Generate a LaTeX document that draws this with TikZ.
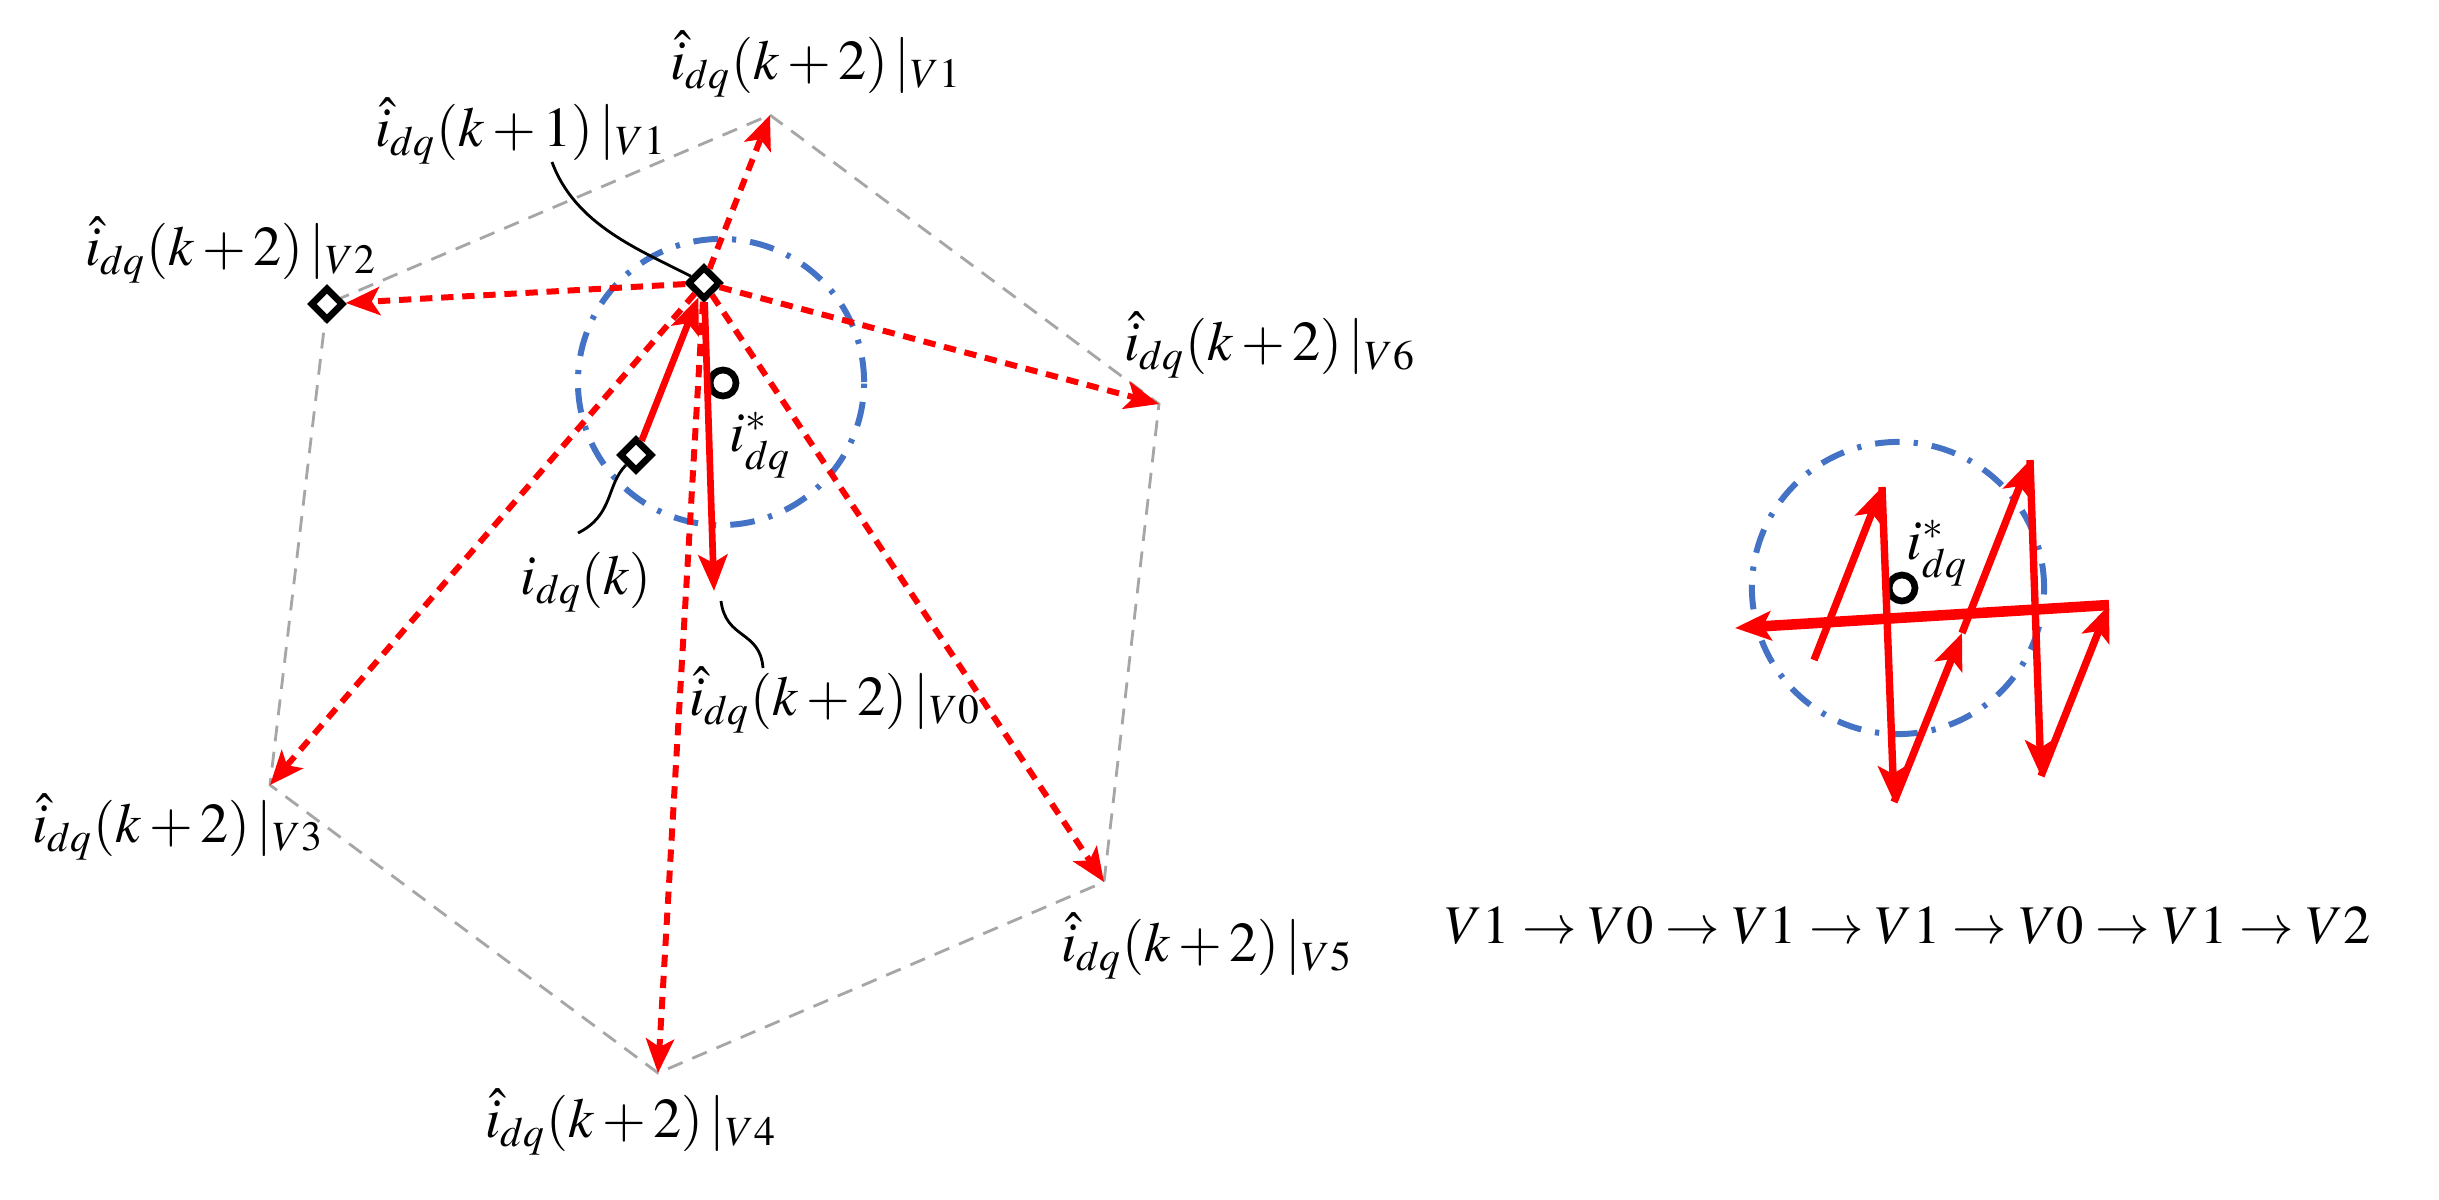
\documentclass[tikz,border=0pt]{standalone}
\usepackage{mathptmx}
\usetikzlibrary{arrows.meta,shapes.geometric}

\definecolor{predred}{RGB}{255,0,0}
\definecolor{bndblue}{RGB}{68,114,196}
\definecolor{hexgray}{RGB}{166,166,166}

\begin{document}
\begin{tikzpicture}[x=0.01cm, y=-0.01cm,
  lbl/.style={font=\fontsize{16}{19}\selectfont, inner sep=0pt},
  hexline/.style={draw=hexgray, line width=0.8pt, dash pattern=on 4.5pt off 3pt},
  predarrow/.style={draw=predred, line width=1.7pt, dash pattern=on 3.5pt off 2.5pt,
                    -{Stealth[length=3.4mm,width=2.8mm,inset=0.8mm]}},
  steparrow/.style={draw=predred, line width=1.9pt,
                    -{Stealth[length=3.6mm,width=2.9mm,inset=0.8mm]}},
  bound/.style={draw=bndblue, line width=1.7pt, dash pattern=on 7pt off 4pt on 1.2pt off 4pt},
  sample/.style={diamond, draw, line width=1.9pt, fill=white, inner sep=0pt, minimum size=3.3mm},
  refpt/.style={circle, draw, line width=1.9pt, fill=white, inner sep=0pt, minimum size=2.6mm},
  callout/.style={draw, line width=0.8pt}
]
  \useasboundingbox (0,0) rectangle (2439,1200);

  % hexagon of predicted currents
  \coordinate (v1) at (770,115);
  \coordinate (v6) at (1159,404);
  \coordinate (v5) at (1104,882);
  \coordinate (v4) at (658,1073);
  \coordinate (v3) at (270,785);
  \coordinate (v2) at (327,304);
  \coordinate (v0) at (714,591);
  \draw[hexline] (v1) -- (v6) -- (v5) -- (v4) -- (v3) -- (v2) -- cycle;

  % bound around the reference
  \draw[bound] (721,382) circle [radius=1.43cm];

  % markers
  \node[sample] (ik) at (636,455) {};
  \node[sample] (kp1) at (704,283) {};
  \node[sample] (v2m) at (327,304) {};
  \node[refpt] (ref) at (723,383) {};

  % second-step predictions
  \draw[predarrow] (kp1) -- (v1);
  \draw[predarrow] (kp1) -- (v2m);
  \draw[predarrow] (kp1) -- (v3);
  \draw[predarrow] (kp1) -- (v4);
  \draw[predarrow] (kp1) -- (v5);
  \draw[predarrow] (kp1) -- (v6);

  % applied steps
  \draw[steparrow] (ik) -- (kp1);
  \draw[steparrow] (kp1) -- (v0);

  % labels
  \node[lbl] (labv1) at (816,64) {$\hat{i}_{dq}(k+2)\,|_{V1}$};
  \node[lbl] (labk1) at (521,131) {$\hat{i}_{dq}(k+1)\,|_{V1}$};
  \node[lbl] (labv2) at (231,250) {$\hat{i}_{dq}(k+2)\,|_{V2}$};
  \node[lbl] (labv6) at (1270,345) {$\hat{i}_{dq}(k+2)\,|_{V6}$};
  \node[lbl] (labref) at (760,445) {$i_{dq}^{*}$};
  \node[lbl] (labik) at (586,582) {$i_{dq}(k)$};
  \node[lbl] (labv0) at (835,700) {$\hat{i}_{dq}(k+2)\,|_{V0}$};
  \node[lbl] (labv3) at (178,827) {$\hat{i}_{dq}(k+2)\,|_{V3}$};
  \node[lbl] (labv5) at (1207,946) {$\hat{i}_{dq}(k+2)\,|_{V5}$};
  \node[lbl] (labv4) at (631,1122) {$\hat{i}_{dq}(k+2)\,|_{V4}$};

  % callouts
  \coordinate (ck1) at (552,162);
  \coordinate (cik) at (578,533);
  \coordinate (cv0a) at (721,601);
  \coordinate (cv0b) at (763,668);
  \draw[callout] (ck1) .. controls (575,225) and (640,250) .. (kp1);
  \draw[callout] (ik) .. controls (606,485) and (614,515) .. (cik);
  \draw[callout] (cv0a) .. controls (726,640) and (760,630) .. (cv0b);

  % switching sequence, right side
  \draw[bound] (1898,588) circle [radius=1.46cm];
  \node[refpt] (ref2) at (1902,588) {};
  \node[lbl] (labref2) at (1937,553) {$i_{dq}^{*}$};

  \coordinate (z0) at (1814,660);
  \coordinate (z1) at (1882,487);
  \coordinate (z2) at (1894,802);
  \coordinate (z3) at (1962,633);
  \coordinate (z4) at (2030,460);
  \coordinate (z5) at (2041,776);
  \coordinate (z6) at (2109,605);
  \coordinate (z7) at (1735,628);
  \foreach \a/\b in {z0/z1,z1/z2,z2/z3,z3/z4,z4/z5,z5/z6}
    \draw[steparrow, line width=2.1pt] (\a) -- (\b);
  \draw[steparrow, line width=3pt] (z6) -- (z7);

  \node[lbl, font=\fontsize{15.5}{19}\selectfont] (seq) at (1908,926)
    {$V1\rightarrow V0\rightarrow V1\rightarrow V1\rightarrow V0\rightarrow V1\rightarrow V2$};
\end{tikzpicture}
\end{document}
